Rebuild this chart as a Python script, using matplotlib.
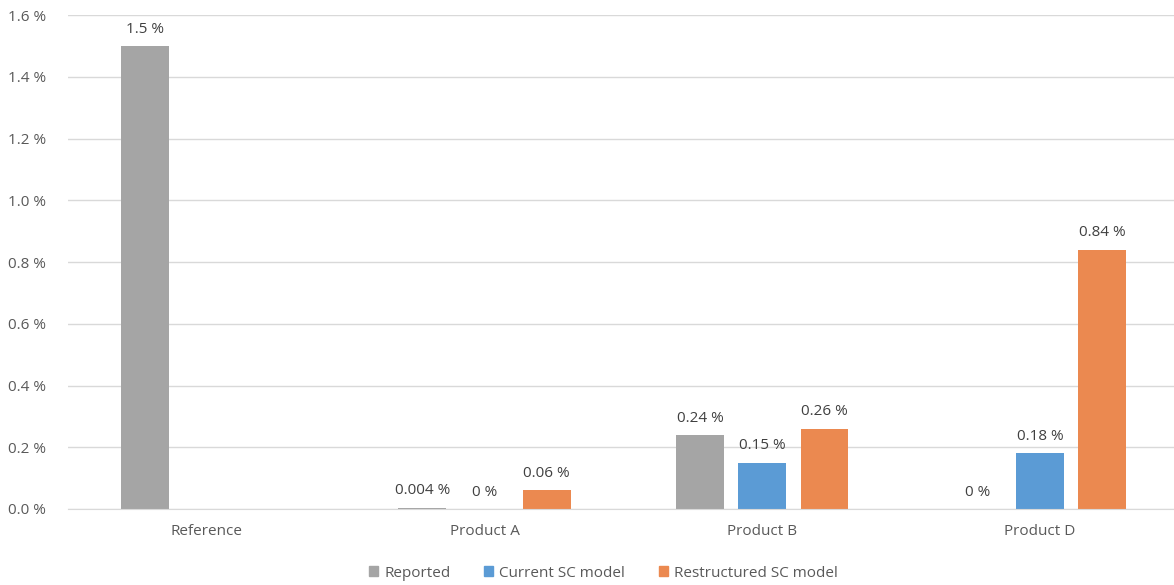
import numpy as np
import matplotlib.pyplot as plt
from matplotlib.patches import Patch

# values in percent, NaN = no value in that group
categories = ['Reference', 'Product A', 'Product B', 'Product D']
reported = [1.5, 0.004, 0.24, 0.0]
current_sc = [np.nan, 0.0, 0.15, 0.18]
restructured_sc = [np.nan, 0.06, 0.26, 0.84]
yticks = [0.0, 0.2, 0.4, 0.6, 0.8, 1.0, 1.2, 1.4, 1.6]

series = [
    ('Reported', reported, '#A5A5A5'),
    ('Current SC model', current_sc, '#5B9BD5'),
    ('Restructured SC model', restructured_sc, '#EB8950'),
]

plt.rcParams['font.family'] = ['Open Sans', 'DejaVu Sans']
text_col = '#595959'
fs = 11

fig = plt.figure(figsize=(11.74, 5.85), dpi=100)
ax = fig.add_axes([0.058, 0.130, 0.946, 0.844])

x = np.arange(len(categories))
width = 0.172
step = 0.224

for i, (name, vals, col) in enumerate(series):
    pos = x + (i - 1) * step
    ax.bar(pos, vals, width=width, color=col, zorder=2)
    for p, v in zip(pos, vals):
        if np.isnan(v):
            continue
        ax.text(p, v + 0.03, f'{v:g} %', ha='center', va='bottom',
                fontsize=fs, color='#404040')

ax.set_xlim(-0.5, len(categories) - 0.5)
ax.set_ylim(0, 1.6)
ax.set_yticks(yticks)
ax.set_yticklabels([f'{t:.1f} %' for t in yticks], fontsize=fs, color=text_col)
ax.set_xticks(x)
ax.set_xticklabels(categories, fontsize=fs, color=text_col)
ax.tick_params(axis='both', length=0)
ax.tick_params(axis='x', pad=11)
ax.tick_params(axis='y', pad=16)
ax.grid(axis='y', color='#D9D9D9', linewidth=1, zorder=0)
for s in ['top', 'right', 'left']:
    ax.spines[s].set_visible(False)
ax.spines['bottom'].set_color('#D9D9D9')
ax.spines['bottom'].set_zorder(3)

handles = [Patch(color=c, label=n) for n, _, c in series]
fig.legend(handles=handles, loc='lower center', ncol=3, frameon=False,
           bbox_to_anchor=(0.514, -0.016), fontsize=fs, handlelength=0.6,
           handleheight=0.6, handletextpad=0.4, columnspacing=2.2,
           labelcolor=text_col)

fig.savefig('out.png', dpi=100, facecolor='white')
